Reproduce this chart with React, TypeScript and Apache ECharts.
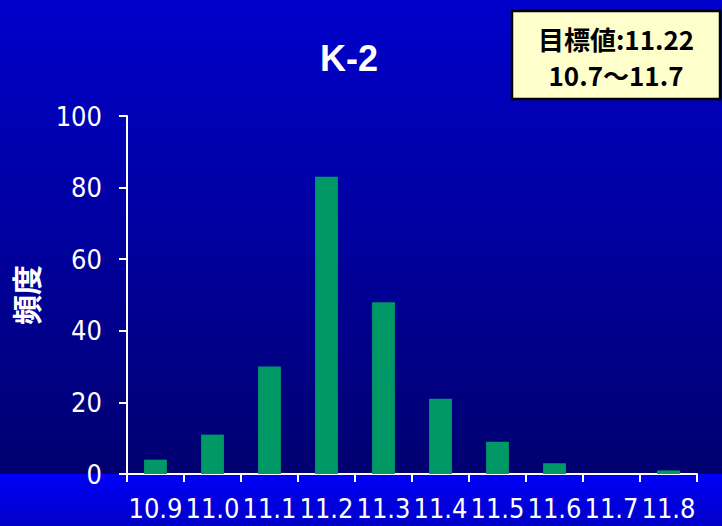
import React, { useEffect, useRef } from "react";
import * as echarts from "echarts";

const categories = ["10.9", "11.0", "11.1", "11.2", "11.3", "11.4", "11.5", "11.6", "11.7", "11.8"];
const frequency = [4, 11, 30, 83, 48, 21, 9, 3, 0, 1];
const yTicks = { min: 0, max: 100, interval: 20 };
const titleText = "K-2";
const yAxisName = "頻度";
const boxLines = ["目標値:11.22", "10.7〜11.7"];

const NARROW = '"DejaVu Sans Condensed", "Liberation Sans Narrow", sans-serif';

export default function App() {
  const ref = useRef<HTMLDivElement>(null);
  useEffect(() => {
    if (!ref.current) return;
    const chart = echarts.init(ref.current, undefined, { renderer: "svg" });
    chart.setOption({
      animation: false,
      backgroundColor: "transparent",
      grid: { left: 127, right: 25, top: 116, bottom: 52 },
      xAxis: {
        type: "category",
        data: categories,
        boundaryGap: true,
        axisLine: { show: true, lineStyle: { color: "#ffffff", width: 2 } },
        axisTick: { show: true, length: 8, alignWithLabel: false, lineStyle: { color: "#ffffff", width: 2 } },
        axisLabel: {
          interval: 0,
          color: "#ffffff",
          fontSize: 27,
          fontFamily: NARROW,
          margin: 21,
          hideOverlap: false,
        },
        splitLine: { show: false },
      },
      yAxis: {
        type: "value",
        min: yTicks.min,
        max: yTicks.max,
        interval: yTicks.interval,
        axisLine: { show: true, lineStyle: { color: "#ffffff", width: 2 } },
        axisTick: { show: true, length: 8, lineStyle: { color: "#ffffff", width: 2 } },
        axisLabel: { color: "#ffffff", fontSize: 27, fontFamily: NARROW, margin: 25 },
        splitLine: { show: false },
      },
      series: [
        {
          type: "bar",
          data: frequency,
          barWidth: "40%",
          itemStyle: { color: "#009966" },
        },
      ],
      graphic: [
        {
          type: "text",
          x: 349,
          y: 58,
          style: {
            text: titleText,
            fill: "#ffffff",
            font: 'bold 36px "Liberation Sans", sans-serif',
            textAlign: "center",
            textVerticalAlign: "middle",
          },
        },
        {
          type: "text",
          x: 25,
          y: 295,
          rotation: Math.PI / 2,
          style: {
            text: yAxisName,
            fill: "#ffffff",
            font: 'bold 30px "Noto Sans CJK JP", sans-serif',
            textAlign: "center",
            textVerticalAlign: "middle",
          },
        },
        {
          type: "rect",
          shape: { x: 512, y: 11, width: 208, height: 88 },
          style: { fill: "#ffffcc", stroke: "#000000", lineWidth: 2.5 },
        },
        {
          type: "text",
          x: 616,
          y: 38,
          style: {
            text: boxLines[0],
            fill: "#000000",
            font: 'bold 26px "Noto Sans CJK JP", sans-serif',
            textAlign: "center",
            textVerticalAlign: "middle",
          },
        },
        {
          type: "text",
          x: 616,
          y: 74,
          style: {
            text: boxLines[1],
            fill: "#000000",
            font: 'bold 26px "Noto Sans CJK JP", sans-serif',
            textAlign: "center",
            textVerticalAlign: "middle",
          },
        },
      ],
    });
    return () => chart.dispose();
  }, []);
  return (
    <div
      style={{
        position: "fixed",
        left: 0,
        top: 0,
        width: 722,
        height: 526,
        background:
          "linear-gradient(to bottom, #0000cc 0px, #000070 474px, #0000f8 474px, #0000c8 526px)",
      }}
    >
      <div ref={ref} style={{ width: 722, height: 526 }} />
    </div>
  );
}
